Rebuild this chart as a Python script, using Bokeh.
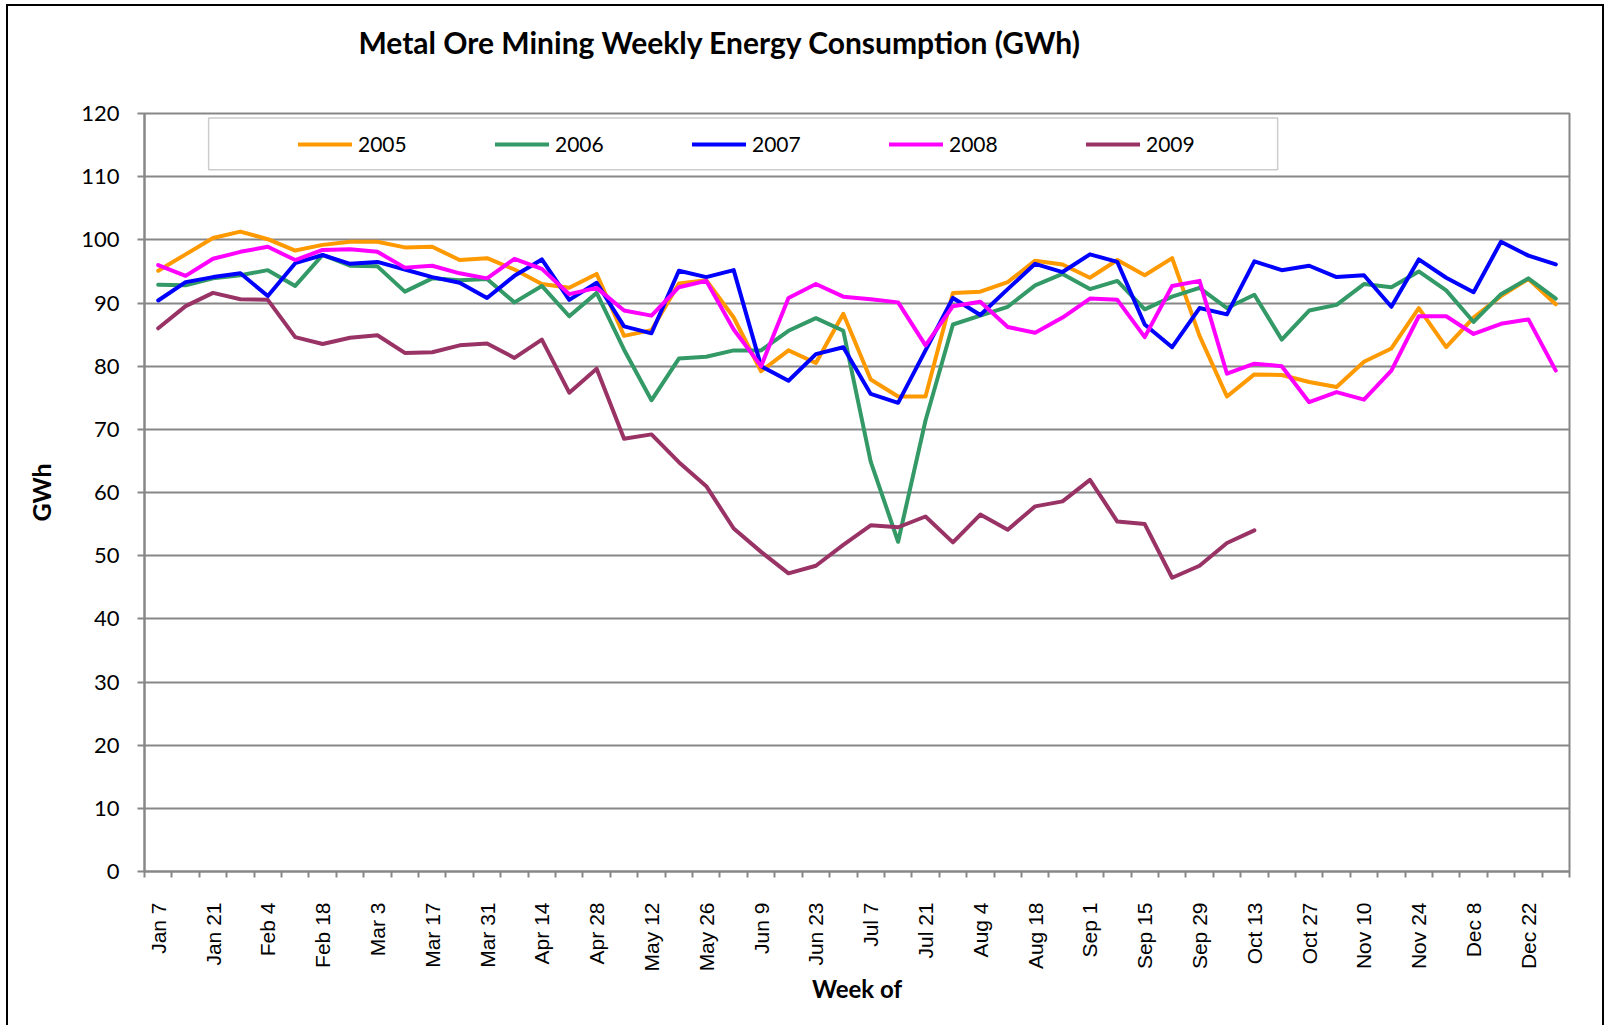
import math
from bokeh.plotting import figure
from bokeh.models import (Range1d, FixedTicker, Legend, LegendItem, BoxAnnotation,
                          LinearAxis)
from bokeh.embed import file_html
from bokeh.resources import INLINE

weeks = ["Jan 7", "Jan 14", "Jan 21", "Jan 28", "Feb 4", "Feb 11", "Feb 18", "Feb 25",
         "Mar 3", "Mar 10", "Mar 17", "Mar 24", "Mar 31", "Apr 7", "Apr 14", "Apr 21",
         "Apr 28", "May 5", "May 12", "May 19", "May 26", "Jun 2", "Jun 9", "Jun 16",
         "Jun 23", "Jun 30", "Jul 7", "Jul 14", "Jul 21", "Jul 28", "Aug 4", "Aug 11",
         "Aug 18", "Aug 25", "Sep 1", "Sep 8", "Sep 15", "Sep 22", "Sep 29", "Oct 6",
         "Oct 13", "Oct 20", "Oct 27", "Nov 3", "Nov 10", "Nov 17", "Nov 24", "Dec 1",
         "Dec 8", "Dec 15", "Dec 22", "Dec 29"]

y2005 = [95.1, 97.7, 100.3, 101.3, 100.1, 98.3, 99.2, 99.7, 99.7, 98.8, 98.9, 96.8, 97.1,
         95.3, 93.0, 92.4, 94.6, 84.8, 85.7, 93.1, 93.6, 87.7, 79.2, 82.5, 80.5, 88.3,
         77.9, 75.2, 75.2, 91.6, 91.8, 93.3, 96.7, 96.1, 94.0, 96.8, 94.4, 97.1, 84.8,
         75.2, 78.7, 78.6, 77.5, 76.7, 80.7, 82.8, 89.2, 83.0, 87.7, 91.1, 93.8, 89.8]
y2006 = [92.9, 92.8, 93.9, 94.4, 95.2, 92.7, 97.6, 95.9, 95.8, 91.8, 93.9, 93.6, 93.8,
         90.1, 92.7, 87.9, 91.6, 82.6, 74.6, 81.2, 81.5, 82.5, 82.5, 85.6, 87.6, 85.6,
         64.9, 52.2, 71.4, 86.6, 88.0, 89.4, 92.8, 94.6, 92.2, 93.5, 89.0, 91.0, 92.4,
         89.2, 91.3, 84.2, 88.8, 89.7, 93.0, 92.5, 95.0, 92.0, 87.0, 91.4, 93.9, 90.7]
y2007 = [90.4, 93.3, 94.1, 94.7, 91.1, 96.3, 97.6, 96.2, 96.5, 95.3, 94.1, 93.2, 90.8,
         94.3, 96.9, 90.5, 93.2, 86.3, 85.2, 95.1, 94.1, 95.2, 80.0, 77.7, 81.9, 83.0,
         75.6, 74.2, 82.5, 90.8, 88.1, 92.2, 96.2, 94.9, 97.7, 96.5, 86.6, 83.0, 89.2,
         88.2, 96.6, 95.2, 95.9, 94.1, 94.4, 89.4, 96.9, 94.0, 91.7, 99.7, 97.5, 96.1]
y2008 = [96.0, 94.3, 97.0, 98.1, 98.9, 96.8, 98.4, 98.5, 98.1, 95.6, 95.9, 94.7, 93.9,
         97.0, 95.4, 91.4, 92.4, 88.8, 88.0, 92.5, 93.5, 85.8, 80.0, 90.8, 93.0, 91.0,
         90.6, 90.1, 83.3, 89.5, 90.2, 86.2, 85.3, 87.7, 90.7, 90.5, 84.6, 92.7, 93.5,
         78.8, 80.4, 80.0, 74.3, 75.9, 74.7, 79.3, 87.9, 87.9, 85.1, 86.7, 87.4, 79.3]
y2009 = [86.0, 89.5, 91.6, 90.6, 90.5, 84.6, 83.5, 84.5, 84.9, 82.1, 82.2, 83.3, 83.6,
         81.3, 84.2, 75.8, 79.6, 68.5, 69.2, 64.8, 61.0, 54.3, 50.6, 47.2, 48.4, 51.7,
         54.8, 54.5, 56.2, 52.1, 56.5, 54.1, 57.8, 58.6, 62.0, 55.4, 55.0, 46.5, 48.4,
         52.0, 54.0]

series_names = ["2005", "2006", "2007", "2008", "2009"]
series_values = [y2005, y2006, y2007, y2008, y2009]
series_colors = ["#FF9900", "#339966", "#0000FF", "#FF00FF", "#993366"]
y_ticks = [0, 10, 20, 30, 40, 50, 60, 70, 80, 90, 100, 110, 120]
title_text = "Metal Ore Mining Weekly Energy Consumption (GWh)"

GRID = "#878787"

n = len(weeks)
idx = list(range(n))

p = figure(width=1598, height=1021, output_backend="svg", toolbar_location=None,
           x_range=Range1d(-0.5, n - 0.5), y_range=Range1d(0, 120),
           min_border_left=136, min_border_right=37, min_border_top=107,
           min_border_bottom=156, background_fill_color="white",
           border_fill_color="white")
p.styles = {"border-top": "2px solid black", "border-left": "2px solid black",
            "border-right": "2px solid black", "margin-left": "6px",
            "margin-top": "4px"}

p.outline_line_color = GRID
p.outline_line_width = 2

xa = p.below[0]
ya = p.left[0]

# title, carried by an otherwise blank axis above the plot frame
title_pos = 20.5
title_axis = LinearAxis(ticker=FixedTicker(ticks=[title_pos]),
                        major_label_overrides={title_pos: title_text},
                        major_tick_out=0, major_tick_in=0, major_tick_line_color=None,
                        minor_tick_out=0, minor_tick_in=0, minor_tick_line_color=None,
                        axis_line_color=None, major_label_standoff=54,
                        major_label_text_font="Lato",
                        major_label_text_font_style="bold",
                        major_label_text_font_size="30px",
                        major_label_text_color="black")
p.add_layout(title_axis, "above")
p.title.text = ""

# x axis: labels at every other week, ticks between weeks
xa.ticker = FixedTicker(ticks=idx[::2], minor_ticks=[i - 0.5 for i in range(n + 1)])
xa.major_label_overrides = {i: weeks[i] for i in idx}
xa.major_label_orientation = math.pi / 2
xa.major_label_text_font = "Liberation Sans"
xa.major_label_text_font_size = "21px"
xa.major_label_text_color = "black"
xa.major_label_standoff = 25
xa.major_tick_out = 0
xa.major_tick_in = 0
xa.major_tick_line_color = None
xa.minor_tick_out = 6
xa.minor_tick_in = 0
xa.minor_tick_line_color = GRID
xa.minor_tick_line_width = 2
xa.axis_line_color = GRID
xa.axis_line_width = 2
xa.axis_label = "Week of"
xa.axis_label_text_font = "Lato"
xa.axis_label_text_font_style = "bold"
xa.axis_label_text_font_size = "24px"
xa.axis_label_text_color = "black"
xa.axis_label_standoff = 0

ya.ticker = FixedTicker(ticks=y_ticks)
ya.major_label_text_font = "Lato"
ya.major_label_text_font_size = "22px"
ya.major_label_text_color = "black"
ya.major_label_standoff = 18
ya.major_tick_out = 7
ya.major_tick_in = 0
ya.major_tick_line_color = GRID
ya.major_tick_line_width = 2
ya.minor_tick_out = 0
ya.minor_tick_in = 0
ya.axis_line_color = GRID
ya.axis_line_width = 2
ya.axis_label = "GWh"
ya.axis_label_text_font = "Lato"
ya.axis_label_text_font_style = "bold"
ya.axis_label_text_font_size = "25px"
ya.axis_label_text_color = "black"
ya.axis_label_standoff = 22

p.xgrid.visible = False
p.ygrid.ticker = FixedTicker(ticks=y_ticks)
p.ygrid.grid_line_color = GRID
p.ygrid.grid_line_width = 2

items = []
for name, vals, col in zip(series_names, series_values, series_colors):
    r = p.line(idx[:len(vals)], vals, line_color=col, line_width=4,
               line_join="round", line_cap="round")
    items.append(LegendItem(label=name, renderers=[r]))

# legend frame
p.add_layout(BoxAnnotation(left=1.84, right=40.85, top=119.3, bottom=111.1,
                           fill_alpha=0, line_color="#555555", line_width=1.5))

legend = Legend(items=items, orientation="horizontal", location=(154, 715),
                padding=10, margin=0, spacing=27, glyph_width=54, glyph_height=20,
                label_standoff=6, label_width=110,
                label_text_font="Lato", label_text_font_size="21px",
                label_text_color="black", border_line_color=None,
                background_fill_alpha=0)
p.add_layout(legend)

open("out.html", "w").write(file_html(p, INLINE))
